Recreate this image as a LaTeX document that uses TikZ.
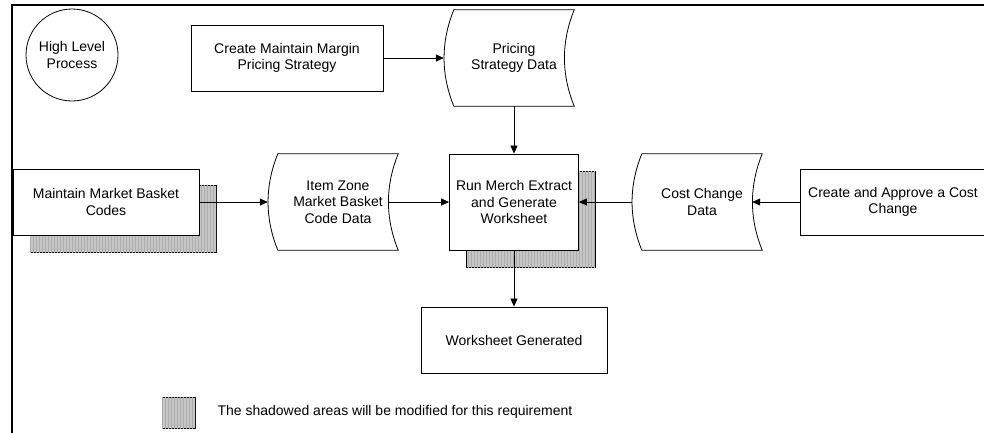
\documentclass[tikz,border=0pt]{standalone}
\usepackage{fontspec}
\setmainfont{Liberation Sans}
\usetikzlibrary{arrows.meta,patterns}

% data store outline round a named node
\newcommand{\datashape}[1]{%
  \draw[line width=.8pt] (#1.north west)
    .. controls ([xshift=-13pt,yshift=-32pt]#1.north west) and ([xshift=-13pt,yshift=32pt]#1.south west) .. (#1.south west)
    -- (#1.south east)
    .. controls ([xshift=-13pt,yshift=32pt]#1.south east) and ([xshift=-13pt,yshift=-32pt]#1.north east) .. (#1.north east)
    -- cycle;}

\begin{document}
\begin{tikzpicture}[x=1pt, y=-1pt,
    every node/.style={font=\fontsize{14}{16.5}\selectfont, align=center},
    process/.style={draw, line width=.8pt, fill=white, minimum width=#1, minimum height=66pt, inner sep=0pt},
    datastore/.style={minimum width=120pt, minimum height=96pt, inner sep=0pt},
    shadowbox/.style={draw, line width=.8pt, fill=gray!45, postaction={pattern=vertical lines, pattern color=gray!65}},
    flow/.style={line width=.7pt, -{Triangle[length=8pt,width=7pt]}}]
    \useasboundingbox (0,0) rectangle (984,432);
    % Frame
    \draw[line width=2.5pt] (12,440) -- (12,5) -- (990,5);
    % Shadows
    \draw[shadowbox] (30,185) rectangle (216,252);
    \draw[shadowbox] (466,171) rectangle (595,267);
    % Processes
    \node[draw, circle, line width=.8pt, minimum size=92pt, inner sep=0pt] (hlp) at (72,55) {High Level\\Process};
    \node[process=192pt] (cmm) at (287,58) {Create Maintain Margin\\Pricing Strategy};
    \node[process=186pt] (mmb) at (106,202) {Maintain Market Basket\\Codes};
    \node[process=129pt, minimum height=96pt] (run) at (514,202) {Run Merch Extract\\and Generate\\Worksheet};
    \node[process=186pt] (cac) at (893,202) {Create and Approve a Cost\\Change};
    \node[process=186pt] (wsg) at (514,340) {Worksheet Generated};
    % Data stores
    \node[datastore] (psd) at (514,58) {Pricing\\Strategy Data};
    \node[datastore] (izd) at (338,202) {Item Zone\\Market Basket\\Code Data};
    \node[datastore] (ccd) at (702,202) {Cost Change\\Data};
    \datashape{psd}
    \datashape{izd}
    \datashape{ccd}
    % Flows
    \draw[flow] (cmm.east) -- ([xshift=-10pt]psd.west);
    \draw[flow] (psd.south) -- (run.north);
    \draw[flow] (mmb.east) -- ([xshift=-10pt]izd.west);
    \draw[flow] ([xshift=-10pt]izd.east) -- (run.west);
    \draw[flow] (cac.west) -- ([xshift=-10pt]ccd.east);
    \draw[flow] ([xshift=-10pt]ccd.west) -- (run.east);
    \draw[flow] (run.south) -- (wsg.north);
    % Legend
    \node[shadowbox, minimum width=33pt, minimum height=31pt, inner sep=0pt] (key) at (178.5,412.5) {};
    \node[anchor=west] (keytext) at (214,412) {The shadowed areas will be modified for this requirement};
\end{tikzpicture}
\end{document}
